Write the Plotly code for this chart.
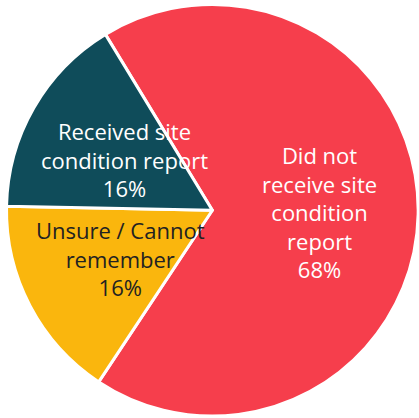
import math
import plotly.graph_objects as go

labels = ["Did not<br>receive site<br>condition<br>report", "Unsure / Cannot<br>remember", "Received site<br>condition report"]
values = [68, 16, 16]
colors = ["#F63E4C", "#FAB60D", "#0F4C5A"]
text_colors = ["#FFFFFF", "#222222", "#FFFFFF"]
label_radius = [0.52, 0.505, 0.49]  # fraction of pie radius for label centres

W, H = 419, 418
rotation = -31.3
dom_x = [0.0155, 0.998]
dom_y = [0.0045, 0.9895]

fig = go.Figure(go.Pie(
    labels=labels,
    values=values,
    sort=False,
    direction="clockwise",
    rotation=rotation,
    marker=dict(colors=colors, line=dict(color="#FFFFFF", width=3)),
    textinfo="none",
    hoverinfo="label+percent",
    showlegend=False,
    domain=dict(x=dom_x, y=dom_y),
))

# label positions derived from the slice mid-angles
cx = (dom_x[0] + dom_x[1]) / 2 * W
cy = (dom_y[0] + dom_y[1]) / 2 * H
r = min((dom_x[1] - dom_x[0]) * W, (dom_y[1] - dom_y[0]) * H) / 2
total = sum(values)
start = rotation
for lab, v, tc, f in zip(labels, values, text_colors, label_radius):
    span = v / total * 360
    mid = math.radians(start + span / 2)
    start += span
    px = cx + f * r * math.sin(mid)
    py = cy + f * r * math.cos(mid)
    pct = f"{round(v / total * 100)}%"
    fig.add_annotation(
        x=px / W, y=py / H, xref="paper", yref="paper",
        text=f"{lab}<br>{pct}", showarrow=False,
        xanchor="center", yanchor="middle", align="center",
        font=dict(family="Open Sans", size=22, color=tc),
    )

fig.update_layout(
    width=W, height=H,
    margin=dict(l=0, r=0, t=0, b=0),
    paper_bgcolor="white",
)

fig.write_html("out.html")
